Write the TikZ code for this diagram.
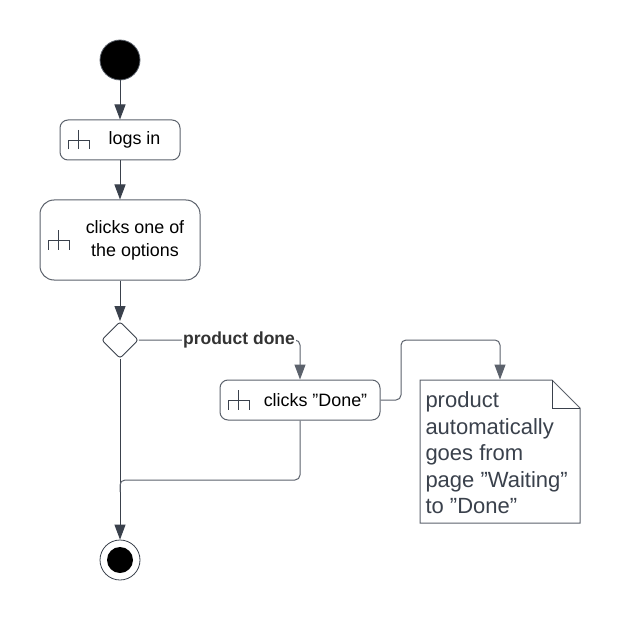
\documentclass[tikz,border=0pt]{standalone}
\usepackage{fontspec}
\setmainfont{Liberation Sans}
\usetikzlibrary{arrows.meta, shapes.geometric}
\definecolor{ink}{RGB}{58, 65, 76}
\definecolor{edge}{RGB}{92, 98, 108}
\definecolor{label}{RGB}{51, 51, 51}
\newcommand{\rakeicon}[2]{
  \draw [line width=0.7, color=ink] (#1, #2 - 10) -- (#1, #2 + 9.5)
  (#1 - 10.5, #2 + 9.5) -- (#1 - 10.5, #2) -- (#1 + 10.5, #2) -- (#1 + 10.5, #2 + 9.5);
}

\begin{document}
\begin{tikzpicture}[x=1pt, y=-1pt, line width=1.0,
    flow/.style={draw=ink, rounded corners=5, -{Triangle[length=15, width=11]}},
    link/.style={draw=edge, rounded corners=5},
    action/.style={draw=edge, fill=white, line width=1, inner sep=0, font=\fontsize{17.9}{23}\selectfont, text=black, align=center}]
  \path [use as bounding box, fill=white] (0, 0) rectangle (620, 620);

  \node (start) at (120, 60) [circle, draw=edge, fill=black, line width=0.8, minimum size=40, inner sep=0] {};

  \node (login) at (120, 140) [action, rounded corners=8, minimum width=120, minimum height=40] {};
  \node (logintext) at (134.5, 140) [font=\fontsize{17.9}{23}\selectfont, inner sep=0] {logs in};

  \node (options) at (120, 240) [action, rounded corners=14, minimum width=160, minimum height=80] {};
  \node (optionstext) at (135, 240) [font=\fontsize{17.9}{23}\selectfont, inner sep=0, align=center] {clicks one of\\the options};

  \node (choice) at (120, 340) [diamond, draw=ink, fill=white, rounded corners=3, line width=0.9, minimum size=37, inner sep=0] {};

  \node (done) at (300, 400) [action, rounded corners=8, minimum width=160, minimum height=40] {};
  \node (donetext) at (315.5, 400) [font=\fontsize{17.9}{23}\selectfont, inner sep=0] {clicks \char34 Done\char34};

  \node (note) at (500, 451.5) [minimum width=160, minimum height=143, inner sep=0] {};
  \draw [draw=edge, fill=white, line width=1] (420, 380) -- (552, 380) -- (580, 408) -- (580, 523) -- (420, 523) -- cycle;
  \draw [draw=ink, line width=0.9] (552, 380) -- (552, 408) -- (580, 408);
  \node (notetext) at (425, 453) [anchor=west, inner sep=0, align=left, text=ink, font=\fontsize{22}{26.5}\selectfont] {product\\automatically\\goes from\\page \char34 Waiting\char34\\to \char34 Done\char34};

  \node (stop) at (120, 560) [circle, draw=ink, fill=white, line width=0.8, minimum size=40, inner sep=0] {};
  \node (stopdot) at (120, 560) [circle, fill=black, minimum size=26, inner sep=0] {};

  \rakeicon{78.5}{140}
  \rakeicon{58.5}{240}
  \rakeicon{238.5}{400}

  \coordinate (merge) at (120, 480);
  \coordinate (riser) at (401, 340);

  \draw [flow] (start) -- (login);
  \draw [flow] (login) -- (options);
  \draw [flow] (options) -- (choice);
  \draw [flow] (choice) -- (stop);
  \draw [link] (done.south) |- (merge) -- ++(0, 12);
  \draw [flow, draw=edge] (choice.east) -| (done.north);
  \node (branch) at (239, 340) [fill=white, inner xsep=1, inner ysep=0, text=label, font=\bfseries\fontsize{17.5}{20}\selectfont] {product done};
  \draw [flow, draw=edge] (done.east) -| (riser) -| (note.north);
\end{tikzpicture}
\end{document}
